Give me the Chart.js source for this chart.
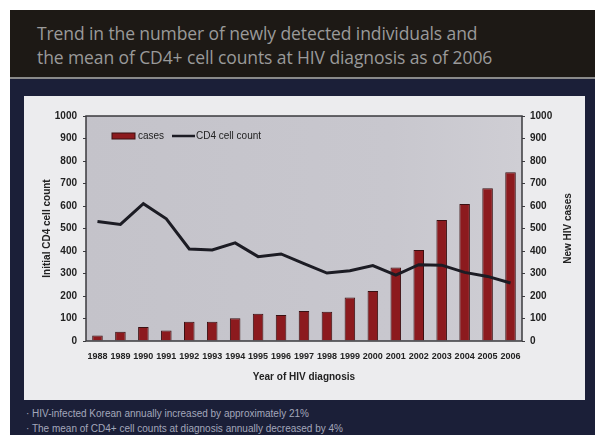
<!DOCTYPE html>
<html>
<head>
<meta charset="utf-8">
<script src="https://cdn.jsdelivr.net/npm/chart.js@4/dist/chart.umd.min.js"></script>
<style>
  html, body { margin: 0; padding: 0; }
  body { width: 595px; height: 435px; background: #ffffff; position: relative; overflow: hidden; font-family: "Liberation Sans", Arial, sans-serif; }
  #slide { position: absolute; left: 10px; top: 10px; width: 585px; height: 425px; background: #1b1f38; }
  #titleBand { position: absolute; left: 0; top: 0; width: 585px; height: 67px; background: #1d1915; border-bottom: 2px solid #8a8a8a; }
  #title { position: absolute; left: 27px; top: 11px; color: #9a9a9a; font-family: "Open Sans", sans-serif; font-size: 17.5px; line-height: 24px; letter-spacing: -0.1px; white-space: nowrap; }
  #panel { position: absolute; left: 14px; top: 86px; width: 561px; height: 304px; background: #ececee; }
  #notes { position: absolute; left: 16px; top: 396px; color: #a3a7bb; font-size: 10px; line-height: 15px; white-space: nowrap; }
</style>
</head>
<body>
<div id="slide">
  <div id="titleBand">
    <div id="title">Trend in the number of newly detected individuals and<br>the mean of CD4+ cell counts at HIV diagnosis as of 2006</div>
  </div>
  <div id="panel"><canvas id="chart" width="561" height="304"></canvas></div>
  <div id="notes">· HIV-infected Korean annually increased by approximately 21%<br>· The mean of CD4+ cell counts at diagnosis annually decreased by 4%</div>
</div>
<script>
// data
const years = ['1988', '1989', '1990', '1991', '1992', '1993', '1994', '1995', '1996', '1997',
               '1998', '1999', '2000', '2001', '2002', '2003', '2004', '2005', '2006'];
const cases = [25, 41, 62, 47, 86, 86, 101, 121, 116, 133, 130, 193, 222, 327, 404, 538, 609, 679, 750];
const cd4 = [531, 518, 610, 543, 409, 405, 436, 375, 387, 344, 302, 312, 335, 293, 339, 337, 305, 287, 258];
const axisTicks = [0, 100, 200, 300, 400, 500, 600, 700, 800, 900, 1000];

const FAMILY = '"Liberation Sans", Arial, sans-serif';
const tickFont = { family: FAMILY, size: 10, weight: 'bold' };
const yearFont = { family: '"Liberation Sans Narrow", "Liberation Sans", Arial, sans-serif', size: 9, weight: 'bold' };
const titleFont = { family: FAMILY, size: 10, weight: 'bold' };

// grey plot background + frame
const plotBox = {
    id: 'plotBox',
    beforeDatasetsDraw(chart) {
        const { ctx, chartArea: a } = chart;
        ctx.save();
        const g = ctx.createLinearGradient(a.left, 0, a.right, 0);
        g.addColorStop(0, '#c4c3ca');
        g.addColorStop(0.7, '#c8c7ce');
        g.addColorStop(1, '#cfced4');
        ctx.fillStyle = g;
        ctx.fillRect(a.left, a.top, a.right - a.left, a.bottom - a.top);
        ctx.restore();
    },
    afterDatasetsDraw(chart) {
        const { ctx, chartArea: a } = chart;
        ctx.save();
        ctx.strokeStyle = '#3a3a3e';
        ctx.lineWidth = 1.5;
        ctx.strokeRect(a.left, a.top, a.right - a.left, a.bottom - a.top);
        ctx.restore();
    }
};

// legend sits inside the plot, top-left; right axis title reads bottom-to-top
const innerLegend = {
    id: 'innerLegend',
    afterDraw(chart) {
        const { ctx, chartArea: a } = chart;
        const y = a.top + 20;
        let x = a.left + 26;
        ctx.save();
        ctx.fillStyle = '#8c1a1e';
        ctx.strokeStyle = '#3a1012';
        ctx.fillRect(x, y - 3, 23, 6);
        ctx.strokeRect(x, y - 3, 23, 6);
        ctx.font = '10px ' + FAMILY;
        ctx.fillStyle = '#222';
        ctx.textBaseline = 'middle';
        ctx.fillText('cases', x + 26, y);
        x += 60;
        ctx.strokeStyle = '#1c1c24';
        ctx.lineWidth = 2.5;
        ctx.beginPath();
        ctx.moveTo(x, y);
        ctx.lineTo(x + 23, y);
        ctx.stroke();
        ctx.fillText('CD4 cell count', x + 24, y);

        const s = chart.scales.y1;
        ctx.translate(s.right - 17, (a.top + a.bottom) / 2);
        ctx.rotate(-Math.PI / 2);
        ctx.font = 'bold 10px ' + FAMILY;
        ctx.textAlign = 'center';
        ctx.fillText('New HIV cases', 0, 0);
        ctx.restore();
    }
};

const ctx = document.getElementById('chart').getContext('2d');
new Chart(ctx, {
    type: 'bar',
    data: {
        labels: years,
        datasets: [
            {
                type: 'line',
                label: 'CD4 cell count',
                data: cd4,
                yAxisID: 'y',
                borderColor: '#1c1c24',
                borderWidth: 3,
                pointRadius: 0,
                tension: 0,
                order: 0
            },
            {
                type: 'bar',
                label: 'cases',
                data: cases,
                yAxisID: 'y1',
                backgroundColor: '#8c1a1e',
                borderColor: '#3a1012',
                borderWidth: 1,
                categoryPercentage: 1,
                barPercentage: 0.46,
                order: 1
            }
        ]
    },
    options: {
        responsive: false,
        animation: false,
        devicePixelRatio: 1,
        layout: { padding: { left: 0, right: 0, top: 20, bottom: 0 } },
        plugins: { legend: { display: false }, tooltip: { enabled: false } },
        scales: {
            x: {
                offset: true,
                grid: { display: false },
                border: { display: false },
                ticks: { font: yearFont, color: '#222', maxRotation: 0, autoSkip: false, padding: 2 },
                title: { display: true, text: 'Year of HIV diagnosis', color: '#222', font: titleFont,
                         padding: { top: 0, bottom: 17 } },
                afterFit(s) { s.height = 59; }
            },
            y: {
                position: 'left',
                min: 0, max: 1000,
                afterBuildTicks(s) { s.ticks = axisTicks.map(v => ({ value: v })); },
                grid: { drawOnChartArea: false, tickLength: 3, color: '#3a3a3e' },
                border: { display: false },
                ticks: { font: tickFont, color: '#222', padding: 6, callback: v => String(v) },
                title: { display: true, text: 'Initial CD4 cell count', color: '#222', font: titleFont,
                         padding: { top: 17, bottom: 0 } },
                afterFit(s) { s.width = 62; }
            },
            y1: {
                position: 'right',
                min: 0, max: 1000,
                afterBuildTicks(s) { s.ticks = axisTicks.map(v => ({ value: v })); },
                grid: { drawOnChartArea: false, tickLength: 3, color: '#3a3a3e' },
                border: { display: false },
                ticks: { font: tickFont, color: '#222', padding: 5, callback: v => String(v) },
                title: { display: false },
                afterFit(s) { s.width = 63; }
            }
        }
    },
    plugins: [plotBox, innerLegend]
});
</script>
</body>
</html>
